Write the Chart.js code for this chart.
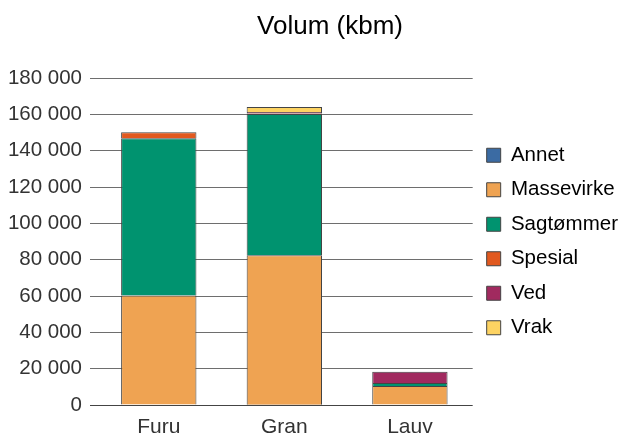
<!DOCTYPE html>
<html>
<head>
<meta charset="utf-8">
<script src="https://cdn.jsdelivr.net/npm/chart.js@4"></script>
<style>
html,body{margin:0;padding:0;background:#fff;}
#wrap{width:629px;height:439px;}
</style>
</head>
<body>
<div id="wrap"><canvas id="volChart"></canvas></div>
<script>
// kategorier og volum per sortiment (kbm)
const categories = ["Furu", "Gran", "Lauv"];
const annet = [300, 200, 0];
const massevirke = [60000, 82300, 10500];
const sagtommer = [86600, 77700, 1600];
const spesial = [3300, 300, 0];
const ved = [0, 800, 6200];
const vrak = [0, 2800, 0];

const yTicks = [0, 20000, 40000, 60000, 80000, 100000, 120000, 140000, 160000, 180000];

const font = "'Liberation Sans', Arial, sans-serif";

function fmt(v){
return String(v).replace(/\B(?=(\d{3})+(?!\d))/g, " ");
}

function ds(label, data, color){
return {
label: label,
data: data,
backgroundColor: color,
borderColor: "#444",
borderWidth: 1,
barPercentage: 0.6,
categoryPercentage: 1
};
}

// tittel tegnes selv for å få den litt til høyre som i originalen
const titlePlugin = {
id: "volTitle",
afterDraw(chart){
let ctx = chart.ctx;
ctx.save();
ctx.font = "26px " + font;
ctx.fillStyle = "#000";
ctx.textAlign = "center";
ctx.textBaseline = "middle";
ctx.fillText("Volum (kbm)", 330, 27);
ctx.restore();
}
};

new Chart(document.getElementById("volChart"), {
type: "bar",
data: {
labels: categories,
datasets: [
ds("Annet", annet, "#3b6ba3"),
ds("Massevirke", massevirke, "#efa352"),
ds("Sagtømmer", sagtommer, "#00936f"),
ds("Spesial", spesial, "#e1591f"),
ds("Ved", ved, "#a12a5f"),
ds("Vrak", vrak, "#fdd362")
]
},
options: {
responsive: true,
maintainAspectRatio: false,
animation: false,
layout: {padding: {top: 78, right: 1, bottom: 0, left: 0}},
plugins: {
title: {display: false},
tooltip: {enabled: false},
legend: {
position: "right",
align: "center",
fullSize: false,
labels: {
boxWidth: 14,
boxHeight: 14,
padding: 14,
color: "#000",
font: {family: font, size: 20.5}
}
}
},
scales: {
x: {
stacked: true,
afterFit(axis){ axis.height = 34; },
grid: {display: false, drawTicks: false},
border: {display: false},
ticks: {color: "#333", padding: 10, font: {family: font, size: 21}}
},
y: {
stacked: true,
min: 0,
max: 180000,
afterFit(axis){ axis.width = 96; },
afterBuildTicks(axis){
axis.ticks = yTicks.map(v => ({value: v}));
},
grid: {
drawTicks: true,
tickLength: 6,
color: ctx => ctx.tick && ctx.tick.value === 0 ? "#444" : "#6e6e6e"
},
border: {display: false},
ticks: {
color: "#333",
padding: 8,
font: {family: font, size: 20.5},
callback: v => fmt(v)
}
}
}
},
plugins: [titlePlugin]
});
</script>
</body>
</html>
